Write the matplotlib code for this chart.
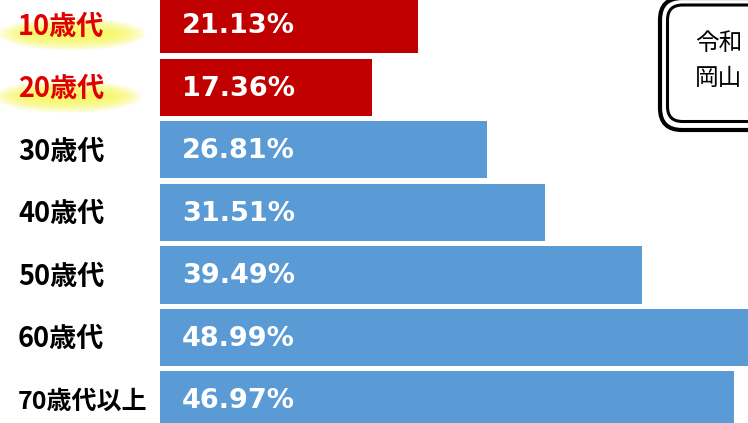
import matplotlib
matplotlib.use("Agg")
import matplotlib.pyplot as plt
from matplotlib.patches import Ellipse, FancyBboxPatch

labels = ["10歳代", "20歳代", "30歳代", "40歳代", "50歳代", "60歳代", "70歳代以上"]
values = [21.13, 17.36, 26.81, 31.51, 39.49, 48.99, 46.97]
highlight = [True, True, False, False, False, False, False]

RED = "#C00000"
BLUE = "#5B9BD5"

fig = plt.figure(figsize=(7.48, 4.23), dpi=100)

# decoration layer in pixel coords (highlights, box)
deco = fig.add_axes([0, 0, 1, 1], zorder=0)
deco.set_xlim(0, 748)
deco.set_ylim(423, 0)
deco.axis("off")

# main bar axes, 0% at x=160px, 12.21 px per percent
ax = fig.add_axes([0, 0, 1, 1], zorder=1)
ax.patch.set_alpha(0)
ppp = 12.21
ax.set_xlim(-160 / ppp, 588 / ppp)
ax.set_ylim(6.368, -0.4)
ax.axis("off")

ypos = list(range(len(values)))
colors = [RED if h else BLUE for h in highlight]
ax.barh(ypos, values, height=0.912, color=colors)

for i, v in enumerate(values):
    ax.text(1.8, i + 0.02, f"{v:.2f}%", va="center", ha="left", color="white",
            fontsize=19.5, fontweight="bold", family="DejaVu Sans")

# yellow marker strokes under red labels
for i, h in enumerate(highlight):
    if not h:
        continue
    cy = 25 + 62.5 * i + 9
    cx = 72 - 4 * i
    for k in range(7):
        deco.add_patch(Ellipse((cx, cy), 146 - k * 10, 32 - k * 4,
                               color="#F7F74A", alpha=0.2, lw=0))

for i, lab in enumerate(labels):
    col = "#E00000" if highlight[i] else "black"
    fs = 19.5 if len(lab) <= 4 else 18
    ax.text((18 - 160) / ppp, i + 0.03, lab, va="center", ha="left", color=col,
            fontsize=fs, fontweight="bold",
            family=["Noto Sans CJK JP", "DejaVu Sans"])

# double-bordered rounded box at top right
deco.add_patch(FancyBboxPatch((660, -2), 160, 132,
                              boxstyle="round,pad=0,rounding_size=22",
                              fc="white", ec="black", lw=3.0))
deco.add_patch(FancyBboxPatch((667.5, 5.0), 150, 116.5,
                              boxstyle="round,pad=0,rounding_size=15",
                              fc="white", ec="black", lw=2.2))
deco.text(695, 44, "令和", fontsize=17, va="center", ha="left",
          family=["Noto Sans CJK JP", "DejaVu Sans"])
deco.text(695, 78, "岡山", fontsize=17, va="center", ha="left",
          family=["Noto Sans CJK JP", "DejaVu Sans"])

fig.savefig("out.png", dpi=100)
